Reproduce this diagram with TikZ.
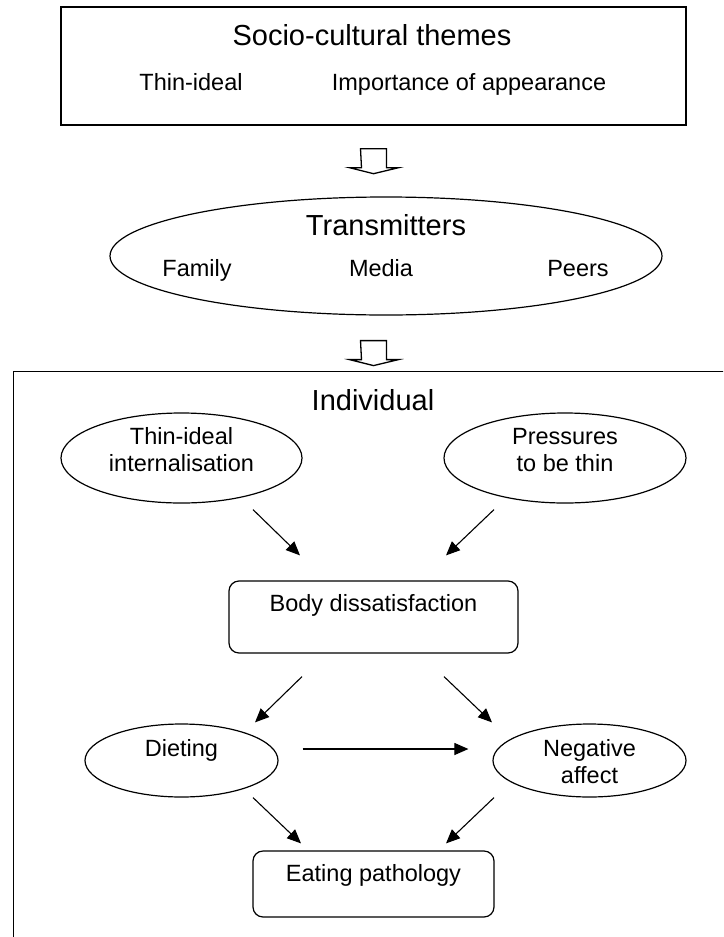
\documentclass[tikz,border=0pt]{standalone}
\usepackage{fontspec}
\setmainfont{Liberation Sans}
\usetikzlibrary{arrows.meta,shapes,calc}

% hollow block arrow hanging from a coordinate
\newcommand{\blockarrow}[1]{%
  \draw[hollow] (#1) ++(-13,0) -- ++(26,0) -- ++(0,19) -- ++(12,0)
    -- ++(-25,6) -- ++(-24,-6) -- ++(12,0) -- cycle;}

\begin{document}
\begin{tikzpicture}[x=1pt,y=-1pt,
    head/.style={font=\fontsize{29}{32}\selectfont, inner sep=0pt, anchor=base},
    lbl/.style={font=\fontsize{23.5}{27}\selectfont, inner sep=0pt, anchor=base},
    lbltwo/.style={font=\fontsize{23.5}{27}\selectfont, inner sep=0pt, align=center},
    frame/.style={draw, line width=1.4pt, inner sep=0pt},
    box/.style={draw, line width=1.2pt, rounded corners=10pt, inner sep=0pt},
    oval/.style={draw, ellipse, line width=1.2pt, inner sep=0pt},
    arr/.style={line width=1.1pt, -{Triangle[length=14pt,width=12pt]}},
    hollow/.style={line width=1.3pt, line join=miter}]

  \useasboundingbox (0,0) rectangle (723,937);
  \clip (0,0) rectangle (723,937);

  % socio-cultural themes
  \node[frame, minimum width=625pt, minimum height=118pt] (themes) at (373.5,66) {};
  \node[head] (themestitle) at (372,45.4) {Socio-cultural themes};
  \node[lbl] (thinideal) at (191,90.4) {Thin-ideal};
  \node[lbl] (appearance) at (469,90.4) {Importance of appearance};

  % transmitters
  \node[oval, minimum width=552pt, minimum height=118pt] (trans) at (386,256) {};
  \node[head] (transtitle) at (386,235.4) {Transmitters};
  \node[lbl] (family) at (197,276.4) {Family};
  \node[lbl] (media) at (381,276.4) {Media};
  \node[lbl] (peers) at (578,276.4) {Peers};

  \coordinate (gap1) at ($(themes.south)+(0,23)$);
  \coordinate (gap2) at ($(themes.south |- trans.south)+(0,25)$);
  \blockarrow{gap1}
  \blockarrow{gap2}

  % individual
  \node[frame, minimum width=760pt, minimum height=600pt, anchor=north west] (indiv) at (13,371) {};
  \node[head] (indivtitle) at (373,410.4) {Individual};

  \node[oval, minimum width=241pt, minimum height=90pt] (ti) at (181.5,458) {};
  \node[lbltwo] (titext) at (181.5,450) {Thin-ideal\\internalisation};
  \node[oval, minimum width=242pt, minimum height=90pt] (pr) at (565,458) {};
  \node[lbltwo] (prtext) at (565,450) {Pressures\\to be thin};

  \node[box, minimum width=289pt, minimum height=72pt] (body) at (373.5,617) {};
  \node[lbl] (bodytext) at (373.5,611.4) {Body dissatisfaction};

  \node[oval, minimum width=193pt, minimum height=73pt] (diet) at (181.5,760.5) {};
  \node[lbl] (diettext) at (181.5,756.4) {Dieting};
  \node[oval, minimum width=193pt, minimum height=73pt] (neg) at (589.5,760.5) {};
  \node[lbltwo] (negtext) at (589.5,762) {Negative\\affect};

  \node[box, minimum width=241pt, minimum height=66pt] (eat) at (373.5,884) {};
  \node[lbl] (eattext) at (373.5,881.4) {Eating pathology};

  % paths
  \draw[arr] ($(ti.south)+(71.5,6)$) -- ($(body.north)+(-73.5,-25)$);
  \draw[arr] ($(pr.south)+(-71,6)$) -- ($(body.north)+(72.5,-25)$);
  \draw[arr] ($(body.south)+(-71.5,23)$) -- ($(diet.north)+(73.5,-1)$);
  \draw[arr] ($(body.south)+(70.5,23)$) -- ($(neg.north)+(-97.5,-1)$);
  \draw[arr] ($(diet.east)+(24,-11.5)$) -- ($(neg.west)+(-24,-11.5)$);
  \draw[arr] ($(diet.south)+(71.5,0)$) -- ($(eat.north)+(-72.5,-7)$);
  \draw[arr] ($(neg.south)+(-95.5,0)$) -- ($(eat.north)+(72.5,-7)$);
\end{tikzpicture}
\end{document}
